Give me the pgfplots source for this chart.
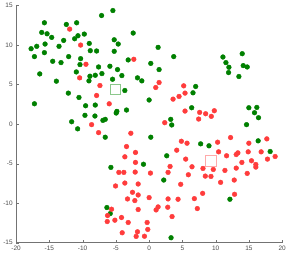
\documentclass[border=0pt]{standalone}
\usepackage{pgfplots}
\pgfplotsset{compat=1.18}
\usepackage{fontspec}
\setmainfont{Liberation Sans}
\definecolor{dgreen}{RGB}{0,128,0}
\definecolor{lred}{RGB}{255,60,60}
\definecolor{pgreen}{RGB}{140,200,140}
\definecolor{pred}{RGB}{255,170,170}
\begin{document}
\begin{tikzpicture}
\begin{axis}[
  scale only axis,
  width=267bp, height=238bp,
  xmin=-20, xmax=20, ymin=-15, ymax=15,
  axis lines=left,
  axis line style={-, black!55},
  xtick={-20,-15,...,20},
  ytick={-15,-10,...,15},
  tick style={black!55},
  tick align=inside,
  major tick length=3pt,
  tick label style={font=\fontsize{6.5}{7}\selectfont, text=black!70},
  /pgf/number format/assume math mode=true,
  clip=false,
]
\addplot[only marks, mark=*, mark size=2.4pt, color=dgreen, mark options={draw=none, fill=dgreen}] coordinates {
(-5.45,14.37) (-7.15,13.74) (-15.75,12.82) (-12.45,12.61) (-10.9,12.82)
(-16.15,11.6) (-15.35,11.43) (-2.4,11.52) (-9.75,11.39) (-10.7,11.18)
(-14.65,10.97) (-11.2,10.8) (-12.85,10.59) (-5.25,10.67) (-15.65,10.13)
(-4.65,10.13) (-9.0,10.21) (-16.9,9.84) (-17.75,9.54) (-13.55,9.84)
(-8.85,9.29) (-7.9,9.25) (-5.25,9.21) (-15.75,9.04) (-12.1,8.54)
(-17.25,8.54) (-3.15,8.12) (-10.3,8.28) (-14.5,7.95) (-13.25,7.78)
(0.25,7.68) (-10.95,6.6) (-7.6,7.23) (-5.9,7.32) (-10.4,7.53)
(-4.75,6.9) (-16.45,6.35) (-7.1,6.39) (-4.1,6.14) (-8.9,6.06)
(-8.1,6.18) (-9.05,5.47) (-1.75,5.85) (-1.1,5.47) (-5.5,5.68)
(-13.95,5.43) (-3.65,4.25) (-12.15,3.92) (-10.55,3.37) (0.0,3.05)
(-17.25,2.57) (-9.55,2.32) (-8.1,2.41) (-3.4,1.78) (-4.85,1.61)
(-4.95,1.4) (-9.65,1.11) (-8.15,1.02) (-6.6,0.6) (-6.95,0.47)
(-11.65,0.3) (-10.75,-0.6) (-6.6,-1.66) (-0.85,-5.08) (-5.75,-5.48)
(-6.35,-10.56) (-5.85,-11.32) (1.35,9.71) (3.7,8.54) (1.5,6.9)
(7.0,4.76) (6.6,3.96) (6.4,2.07) (3.25,0.6) (3.4,-0.11)
(11.1,8.49) (14.0,8.91) (11.55,7.78) (12.0,7.19) (14.15,7.4)
(14.75,7.23) (11.95,6.52) (13.5,6.02) (15.0,2.07) (16.2,2.11)
(15.85,1.44) (16.45,0.81) (14.65,-0.07) (0.25,-1.66) (7.75,-2.5)
(9.0,-2.75) (16.4,-2.12) (2.65,-4.01) (18.2,-3.47) (2.2,-7.08)
(12.15,-9.51) (3.3,-14.38)
};
\addplot[only marks, mark=*, mark size=2.4pt, color=lred, mark options={draw=none, fill=lred}] coordinates {
(-11.95,12.02) (-10.3,10.0) (-2.3,8.2) (-9.5,7.57) (-10.45,5.85)
(-7.4,4.88) (-7.9,3.62) (-6.0,2.57) (-8.65,-0.07) (-7.6,-1.08)
(-2.75,-1.16) (-3.4,-2.84) (-2.05,-3.59) (-3.65,-4.14) (-2.05,-4.85)
(-4.55,-6.11) (-3.8,-6.11) (-2.1,-6.07) (-3.65,-7.46) (-1.65,-7.58)
(-5.05,-7.83) (-2.5,-8.63) (-1.65,-8.97) (-3.25,-9.47) (-2.15,-9.68)
(-5.65,-10.77) (-1.65,-10.81) (-6.25,-11.57) (-4.15,-11.82) (-5.15,-12.16)
(-6.3,-12.33) (-3.15,-12.45) (-0.3,-12.45) (-0.2,-13.33) (-4.05,-13.75)
(-1.75,-13.63) (-1.95,-14.21) (-0.7,-14.19) (1.5,5.26) (1.0,4.63)
(5.2,4.84) (5.4,3.92) (4.5,3.5) (3.6,3.16) (5.4,1.65)
(7.6,1.48) (8.5,1.31) (9.8,1.69) (9.35,0.98) (7.45,0.64)
(2.35,0.18) (4.85,-2.17) (5.7,-2.42) (10.3,-2.29) (12.25,-1.7)
(15.0,-2.42) (17.7,-1.87) (4.15,-3.3) (10.45,-3.51) (11.65,-4.01)
(13.1,-3.85) (13.35,-3.64) (14.9,-3.51) (16.85,-3.51) (5.5,-4.43)
(3.15,-5.36) (6.45,-5.4) (8.1,-5.61) (9.65,-5.74) (11.4,-5.86)
(13.1,-5.57) (13.95,-4.85) (15.4,-4.64) (16.05,-5.11) (16.05,-5.44)
(17.8,-4.43) (18.95,-4.1) (14.75,-6.24) (2.85,-6.11) (0.2,-6.2)
(5.9,-6.41) (8.45,-6.58) (9.3,-6.62) (4.75,-7.62) (10.75,-7.37)
(12.8,-7.08) (8.05,-8.76) (12.85,-8.88) (0.0,-9.3) (2.85,-9.47)
(4.35,-9.51) (6.8,-9.43) (1.35,-10.48) (1.05,-10.86) (2.8,-10.52)
(7.25,-10.69) (3.45,-11.7)
};
\addplot[only marks, mark=square, mark size=5.2pt, mark options={draw=pgreen, line width=0.8pt}] coordinates {(-5.1,4.42)};
\addplot[only marks, mark=square, mark size=5.4pt, mark options={draw=pred, line width=0.8pt}] coordinates {(9.25,-4.64)};
\end{axis}
\end{tikzpicture}
\end{document}
